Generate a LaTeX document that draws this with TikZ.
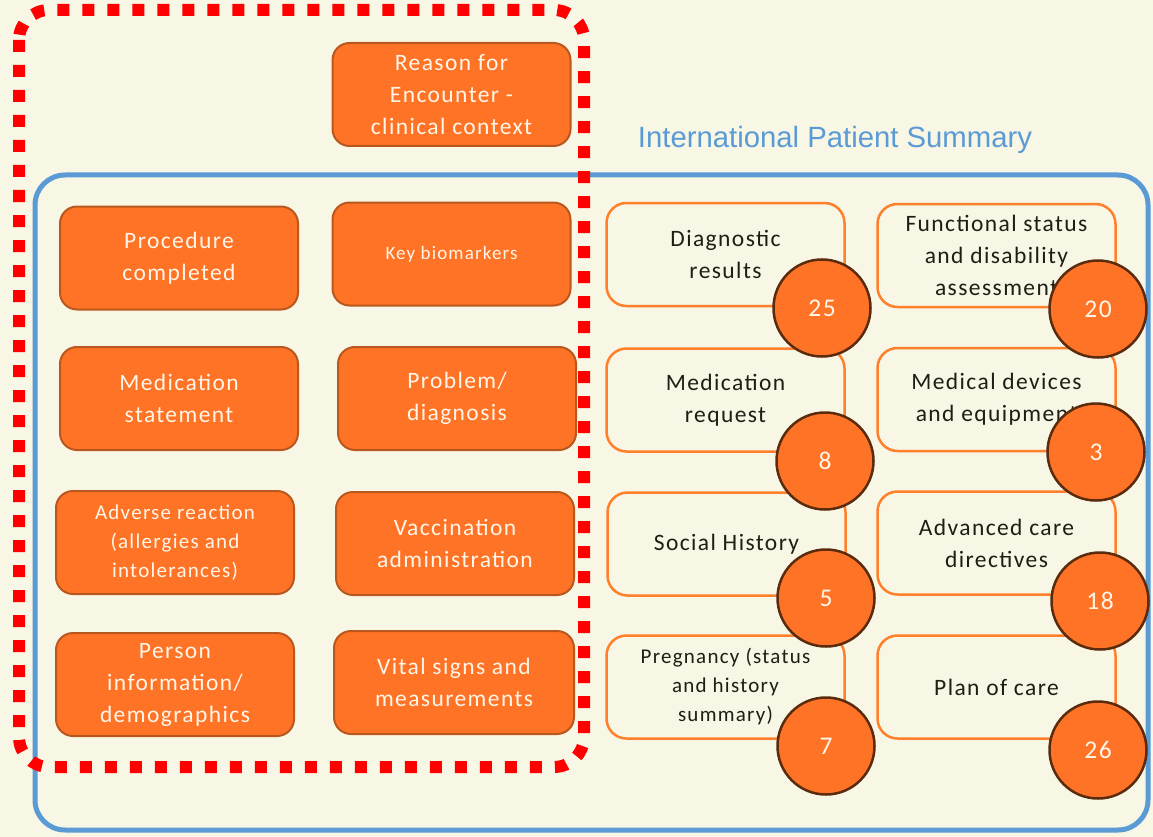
\documentclass[tikz,border=0pt]{standalone}
\usepackage{fontspec}
\setmainfont{Carlito}[LetterSpace=6]
\newfontfamily\titlefont{Liberation Sans}
\usetikzlibrary{positioning}
\definecolor{bgc}{HTML}{F8F6E4}
\definecolor{ofill}{HTML}{FF7326}
\definecolor{odraw}{HTML}{B9581E}
\definecolor{wdraw}{HTML}{FF7F2A}
\definecolor{cdraw}{HTML}{5A2B0D}
\definecolor{ipsblue}{HTML}{5B9BD5}
\definecolor{ctext}{HTML}{FFF6E8}
\definecolor{dtext}{HTML}{1E1E14}
\tikzset{
  obox/.style={draw=odraw, line width=2pt, fill=ofill, rounded corners=17pt,
    minimum width=238pt, minimum height=103pt, align=center, text=ctext,
    font=\fontsize{23.5}{32}\selectfont, inner sep=2pt},
  wbox/.style={draw=wdraw, line width=2.5pt, fill=bgc, rounded corners=20pt,
    minimum width=238pt, minimum height=103pt, align=center, text=dtext,
    font=\fontsize{23.5}{32}\selectfont, inner sep=2pt},
  num/.style={circle, draw=cdraw, line width=2.5pt, fill=ofill, minimum size=97pt,
    text=ctext, font=\fontsize{25.5}{28}\selectfont, inner sep=0pt},
  small/.style={font=\fontsize{21}{29}\selectfont},
}
\begin{document}
\begin{tikzpicture}[x=1pt,y=-1pt]
\useasboundingbox (0,0) rectangle (1153,837);
\fill[bgc] (0,0) rectangle (1153,837);
% IPS frame
\draw[ipsblue, line width=5pt, rounded corners=30pt] (35,175) rectangle (1148,830);
\node[text=ipsblue, font=\titlefont\fontsize{29.3}{32}\selectfont] (title) at (835,139.5) {International Patient Summary};
% orange boxes
\node[obox] (reason) at (451.5,94.5) {Reason for\\Encounter -\\clinical context};
\node[obox] (proc) at (179,258) {Procedure\\completed};
\node[obox, font=\fontsize{19}{24}\selectfont] (key) at (451.5,254) {Key biomarkers};
\node[obox] (medst) at (179,398.5) {Medication\\statement};
\node[obox] (prob) at (457,398.5) {Problem/\\diagnosis};
\node[obox, small] (adv) at (175,542.5) {Adverse reaction\\(allergies and\\intolerances)};
\node[obox] (vacc) at (455,543.5) {Vaccination\\administration};
\node[obox] (person) at (175,684.5) {Person\\information/\\demographics};
\node[obox, minimum width=240pt] (vital) at (454,682.5) {Vital signs and\\measurements};
% white boxes
\node[wbox] (diag) at (725.5,254.5) {Diagnostic\\results};
\node[wbox] (func) at (996.5,255.5) {Functional status\\and disability\\assessment};
\node[wbox] (medreq) at (725.5,400) {Medication\\request};
\node[wbox] (meddev) at (996.5,399.5) {Medical devices\\and equipment};
\node[wbox] (social) at (726.5,544) {Social History};
\node[wbox] (advcare) at (996.5,543) {Advanced care\\directives};
\node[wbox, small] (preg) at (725.5,687) {Pregnancy (status\\and history\\summary)};
\node[wbox] (plan) at (996.5,687) {Plan of care};
% number circles
\node[num] (n25) at (822,308) {25};
\node[num] (n20) at (1098,309) {20};
\node[num] (n8) at (825,461) {8};
\node[num] (n3) at (1096,452) {3};
\node[num] (n5) at (826,598) {5};
\node[num] (n18) at (1100,601) {18};
\node[num] (n7) at (826,746) {7};
\node[num] (n26) at (1098,750) {26};
% red dotted frame
\draw[red, line width=12pt, dash pattern=on 12pt off 13pt, rounded corners=30pt] (19,10) rectangle (584,767);
\end{tikzpicture}
\end{document}
